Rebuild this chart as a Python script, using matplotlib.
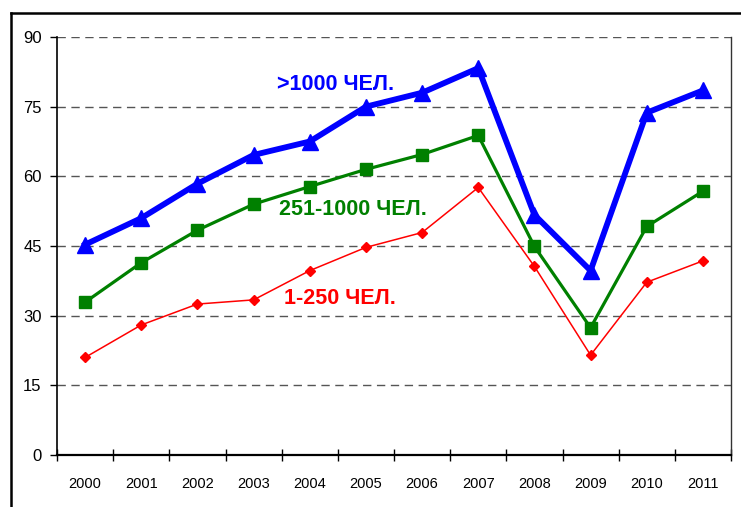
import matplotlib
matplotlib.use("Agg")
import matplotlib.pyplot as plt
from matplotlib.lines import Line2D

plt.rcParams['font.family'] = ['Liberation Sans', 'DejaVu Sans']

years = ["2000", "2001", "2002", "2003", "2004", "2005",
         "2006", "2007", "2008", "2009", "2010", "2011"]
large = [45.3, 51.0, 58.4, 64.6, 67.5, 75.0, 78.0, 83.3, 51.7, 39.7, 73.7, 78.5]
medium = [32.9, 41.4, 48.4, 54.0, 57.8, 61.5, 64.7, 68.8, 44.9, 27.4, 49.2, 56.8]
small = [21.0, 28.0, 32.5, 33.4, 39.7, 44.7, 47.9, 57.6, 40.6, 21.5, 37.2, 41.8]
yticks = [0, 15, 30, 45, 60, 75, 90]
labels = [">1000 ЧЕЛ.", "251-1000 ЧЕЛ.", "1-250 ЧЕЛ."]

W, H = 741, 507
fig = plt.figure(figsize=(W / 100, H / 100), dpi=100)
ax = fig.add_axes([57 / W, (H - 455) / H, (731 - 57) / W, (455 - 37) / H])

x = list(range(len(years)))
ax.plot(x, small, color="#FF0000", lw=1.1, marker="D", markersize=5.5, zorder=3)
ax.plot(x, medium, color="#008000", lw=2.3, marker="s", markersize=8, zorder=4)
ax.plot(x, large, color="#0000FF", lw=4.2, marker="^", markersize=12, zorder=5)

ax.set_xlim(-0.5, len(years) - 0.5)
ax.set_ylim(0, 90)
ax.set_yticks(yticks)
ax.set_yticklabels([str(v) for v in yticks], fontsize=12)
ax.tick_params(axis="y", direction="out", length=5, width=1, pad=6)

ax.set_xticks([i - 0.5 for i in range(len(years) + 1)])
ax.set_xticklabels([""] * (len(years) + 1))
ax.tick_params(axis="x", which="major", direction="inout", length=8, width=1)
ax.set_xticks(x, minor=True)
ax.set_xticklabels(years, minor=True, fontsize=10.5,
                   family=['Liberation Sans Narrow', 'Liberation Sans'])
ax.tick_params(axis="x", which="minor", length=0, pad=16)

ax.yaxis.grid(True, color="#555555", lw=1.0, dashes=(6, 4))
ax.set_axisbelow(True)

ax.spines["top"].set_visible(False)
ax.spines["left"].set_color("black")
ax.spines["left"].set_linewidth(1.2)
ax.spines["bottom"].set_color("black")
ax.spines["bottom"].set_linewidth(1.6)
ax.spines["right"].set_color("#333333")
ax.spines["right"].set_linewidth(1.0)

ax.text(3.42, 79.8, labels[0], color="#0000FF", fontsize=15.5, fontweight="bold",
        ha="left", va="center")
ax.text(3.45, 52.8, labels[1], color="#008000", fontsize=15.5, fontweight="bold",
        ha="left", va="center")
ax.text(3.54, 33.8, labels[2], color="#FF0000", fontsize=15.5, fontweight="bold",
        ha="left", va="center")

# outer frame (left and top edges)
fig.add_artist(Line2D([11 / W, 11 / W], [0, (H - 13) / H], color="black", lw=1.8,
                      transform=fig.transFigure))
fig.add_artist(Line2D([11 / W, 1], [(H - 13) / H, (H - 13) / H], color="black", lw=1.8,
                      transform=fig.transFigure))

fig.savefig("out.png", dpi=100)
